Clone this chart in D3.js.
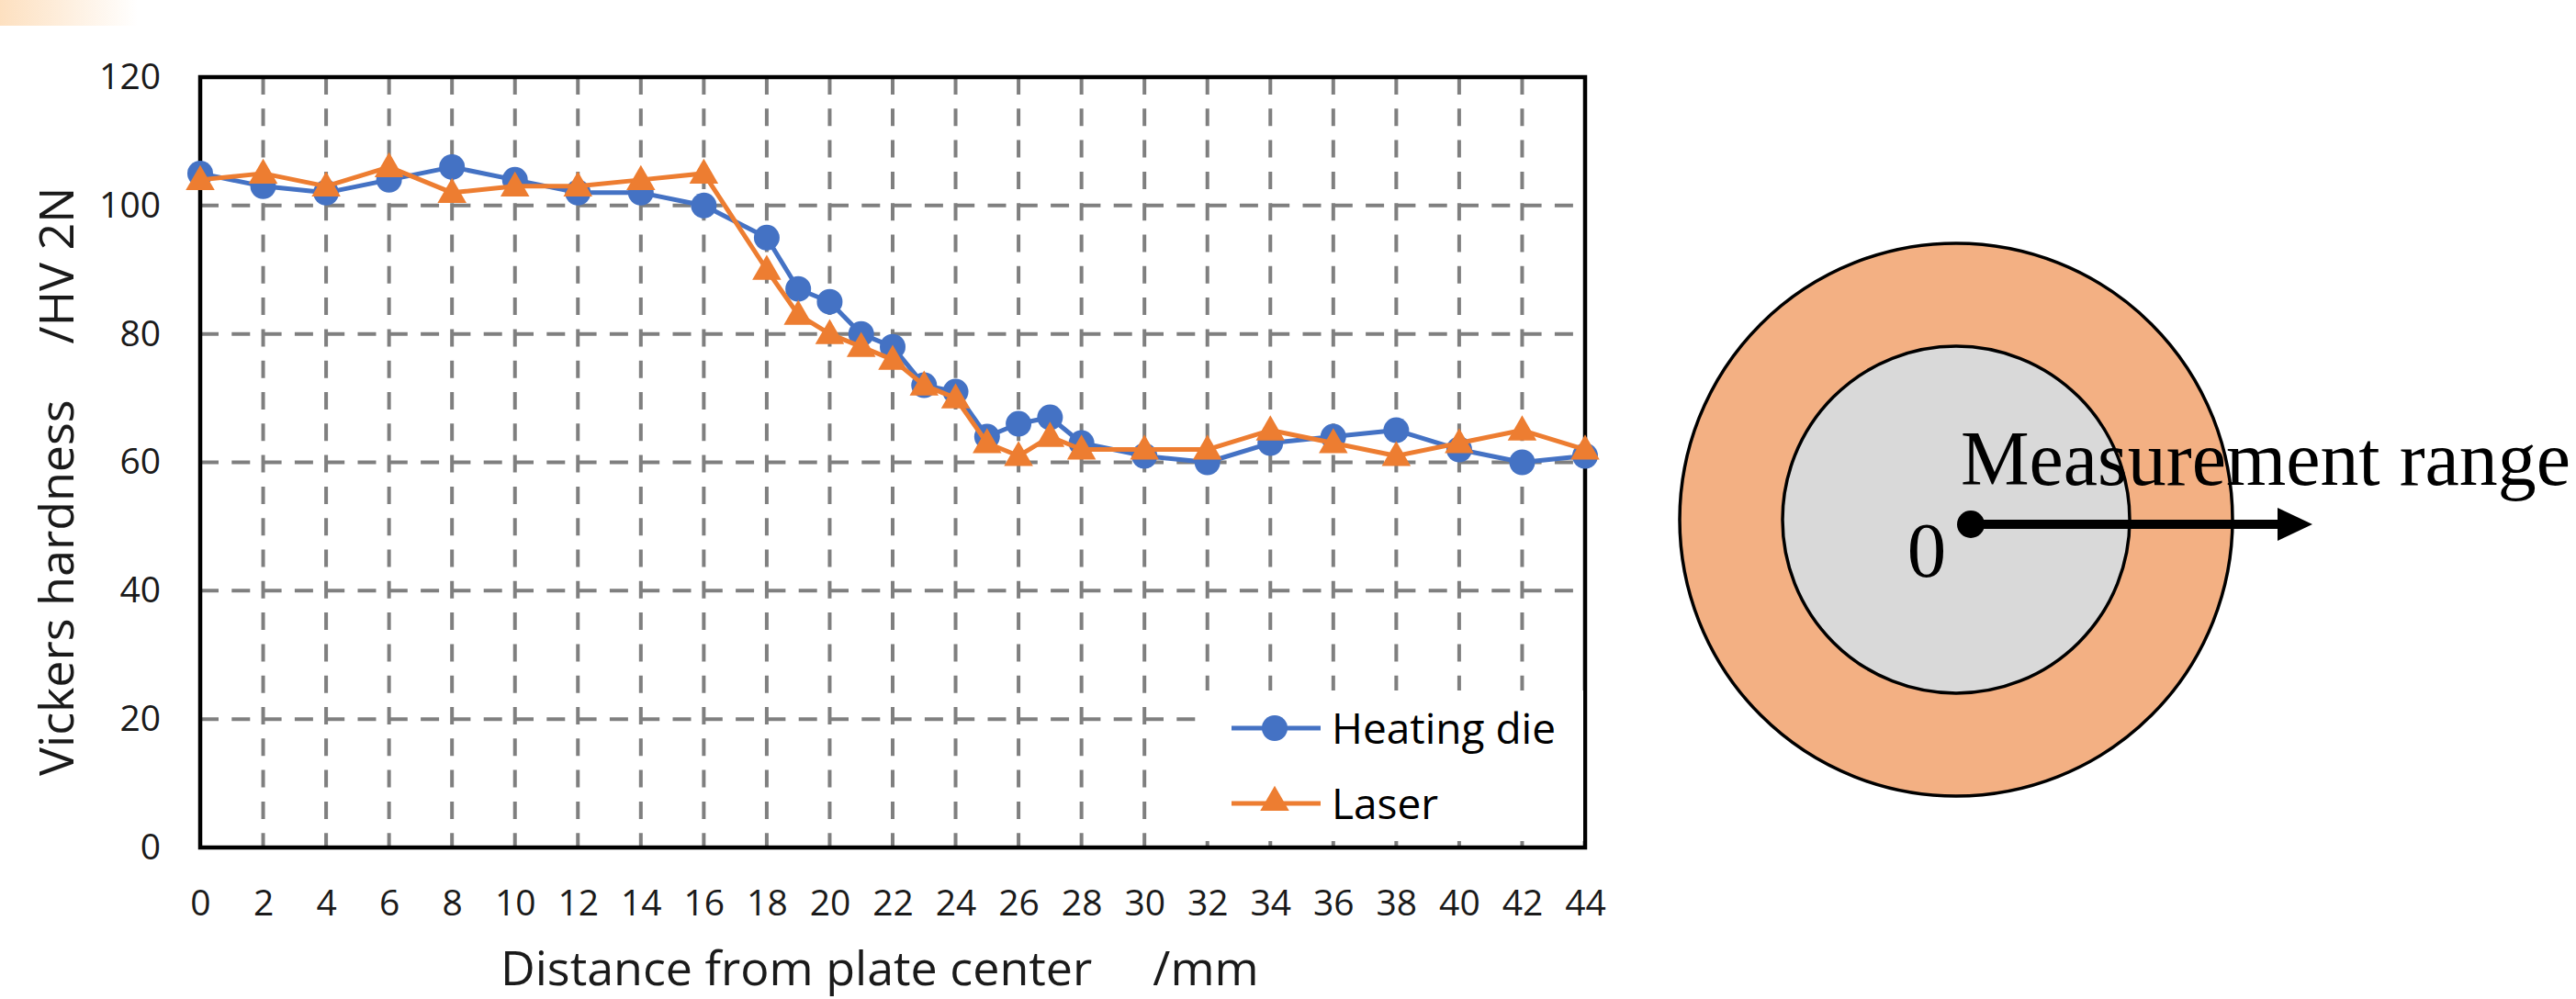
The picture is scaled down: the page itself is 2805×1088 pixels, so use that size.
<!DOCTYPE html>
<html>
<head>
<meta charset="utf-8">
<script src="https://cdn.jsdelivr.net/npm/d3@7"></script>
<style>
  html, body { margin: 0; padding: 0; background: #fff; overflow: hidden; }
  svg { display: block; }
  text { white-space: pre; }
</style>
</head>
<body>
<script>
// ---- data ----
const distances = [0,2,4,6,8,10,12,14,16,18,19,20,21,22,23,24,25,26,27,28,30,32,34,36,38,40,42,44];
const heatingDie = [105,103,102,104,106,104,102,102,100,95,87,85,80,78,72,71,64,66,67,63,61,60,63,64,65,62,60,61];
const laser      = [104,105,103,106,102,103,103,104,105,90,83,80,78,76,72,70,63,61,64,62,62,62,65,63,61,63,65,62];
const xTicks = [0,2,4,6,8,10,12,14,16,18,20,22,24,26,28,30,32,34,36,38,40,42,44];
const yTicks = [0,20,40,60,80,100,120];
const seriesNames = ["Heating die", "Laser"];
const xTitle = ["Distance from plate center", "/mm"];
const yTitle = ["Vickers hardness", "/HV 2N"];
const diagramLabel = "Measurement range";
const originLabel = "0";

// ---- layout ----
const W = 2805, H = 1088;
const svg = d3.select("body").append("svg").attr("width", W).attr("height", H);
svg.append("rect").attr("width", W).attr("height", H).attr("fill", "#fff");

// decorative corner gradient
const defs = svg.append("defs");
const grad = defs.append("linearGradient").attr("id", "cornerGrad").attr("x1", 0).attr("x2", 1).attr("y1", 0).attr("y2", 0);
grad.append("stop").attr("offset", "0%").attr("stop-color", "#fde0c0");
grad.append("stop").attr("offset", "100%").attr("stop-color", "#ffffff");
svg.append("rect").attr("x", 0).attr("y", 0).attr("width", 150).attr("height", 28).attr("fill", "url(#cornerGrad)");

const L = 218, R = 1726, T = 84, B = 923;
const x = d3.scaleLinear().domain([0, 44]).range([L, R]);
const y = d3.scaleLinear().domain([0, 120]).range([B, T]);

const font = "'Open Sans', sans-serif";
const gridColor = "#7f7f7f";

// gridlines
const g = svg.append("g");
g.selectAll("line.hg").data(yTicks.filter(d => d > 0 && d < 120)).join("line")
  .attr("x1", L).attr("x2", R).attr("y1", d => y(d)).attr("y2", d => y(d))
  .attr("stroke", gridColor).attr("stroke-width", 4).attr("stroke-dasharray", "20,14.3");
g.selectAll("line.vg").data(xTicks.filter(d => d > 0 && d < 44)).join("line")
  .attr("x1", d => x(d)).attr("x2", d => x(d)).attr("y1", T).attr("y2", B)
  .attr("stroke", gridColor).attr("stroke-width", 4).attr("stroke-dasharray", "19,15.3");

// axes tick labels via d3 axes
const xAxis = svg.append("g").attr("transform", `translate(0,${B})`)
  .call(d3.axisBottom(x).tickValues(xTicks).tickSize(0).tickPadding(46).tickFormat(d3.format("d")));
xAxis.select(".domain").remove();
xAxis.selectAll("text").attr("font-family", font).attr("font-size", 39).attr("fill", "#1a1a1a").attr("dy", "0.35em").attr("y", 60);

const yAxis = svg.append("g").attr("transform", `translate(${L},0)`)
  .call(d3.axisLeft(y).tickValues(yTicks).tickSize(0).tickPadding(43).tickFormat(d3.format("d")));
yAxis.select(".domain").remove();
yAxis.selectAll("text").attr("font-family", font).attr("font-size", 39).attr("fill", "#1a1a1a");

// plot border
svg.append("rect").attr("x", L).attr("y", T).attr("width", R - L).attr("height", B - T)
  .attr("fill", "none").attr("stroke", "#000").attr("stroke-width", 4.5);

// series
const colors = ["#4472C4", "#ED7D31"];
const line = d3.line().x(d => x(d[0])).y(d => y(d[1]));
const hdPts = distances.map((d, i) => [d, heatingDie[i]]);
const lsPts = distances.map((d, i) => [d, laser[i]]);

const tri = d3.symbol().type(d3.symbolTriangle).size(430);

function drawSeries(pts, color, marker) {
  svg.append("path").datum(pts).attr("d", line).attr("fill", "none")
    .attr("stroke", color).attr("stroke-width", 5).attr("stroke-linejoin", "round");
  if (marker === "circle") {
    svg.append("g").selectAll("circle").data(pts).join("circle")
      .attr("cx", d => x(d[0])).attr("cy", d => y(d[1])).attr("r", 14).attr("fill", color);
  } else {
    svg.append("g").selectAll("path").data(pts).join("path")
      .attr("d", tri).attr("transform", d => `translate(${x(d[0])},${y(d[1]) + 2})`).attr("fill", color);
  }
}
drawSeries(hdPts, colors[0], "circle");
drawSeries(lsPts, colors[1], "triangle");

// legend
svg.append("rect").attr("x", 1306).attr("y", 752).attr("width", 1724 - 1306).attr("height", 164).attr("fill", "#fff");
const legendRows = [{ name: seriesNames[0], color: colors[0], m: "circle", yy: 793 },
                    { name: seriesNames[1], color: colors[1], m: "triangle", yy: 875 }];
legendRows.forEach(r => {
  svg.append("line").attr("x1", 1341).attr("x2", 1438).attr("y1", r.yy).attr("y2", r.yy)
    .attr("stroke", r.color).attr("stroke-width", 5);
  if (r.m === "circle") svg.append("circle").attr("cx", 1388).attr("cy", r.yy).attr("r", 14).attr("fill", r.color);
  else svg.append("path").attr("d", tri).attr("transform", `translate(1388,${r.yy - 1})`).attr("fill", r.color);
  svg.append("text").attr("x", 1450).attr("y", r.yy).attr("dy", "0.36em")
    .attr("font-family", font).attr("font-size", 46).attr("fill", "#000").text(r.name);
});

// axis titles
const xt = svg.append("text").attr("x", 545).attr("y", 1073).attr("font-family", font).attr("font-size", 52).attr("fill", "#1a1a1a");
xt.append("tspan").text(xTitle[0]);
xt.append("tspan").attr("dx", 66).text(xTitle[1]);

const yt = svg.append("text").attr("transform", "translate(80,845) rotate(-90)")
  .attr("font-family", font).attr("font-size", 52).attr("fill", "#1a1a1a");
yt.append("tspan").text(yTitle[0]);
yt.append("tspan").attr("dx", 61).text(yTitle[1]);

// right diagram
const cx = 2130, cy = 566;
svg.append("circle").attr("cx", cx).attr("cy", cy).attr("r", 301).attr("fill", "#F3B083").attr("stroke", "#000").attr("stroke-width", 3.5);
svg.append("circle").attr("cx", cx).attr("cy", cy).attr("r", 189).attr("fill", "#D9D9D9").attr("stroke", "#000").attr("stroke-width", 3.5);
svg.append("text").attr("x", 2135).attr("y", 528).attr("font-family", "'Liberation Serif', 'Times New Roman', serif")
  .attr("font-size", 84).attr("fill", "#000").attr("textLength", 664).attr("lengthAdjust", "spacingAndGlyphs").text(diagramLabel);
svg.append("text").attr("x", 2098).attr("y", 628).attr("text-anchor", "middle").attr("font-family", "'Liberation Serif', 'Times New Roman', serif")
  .attr("font-size", 85).attr("fill", "#000").text(originLabel);
svg.append("line").attr("x1", 2146).attr("x2", 2486).attr("y1", 571).attr("y2", 571).attr("stroke", "#000").attr("stroke-width", 10);
svg.append("path").attr("d", "M2480,553 L2518,571 L2480,589 Z").attr("fill", "#000");
svg.append("circle").attr("cx", 2146).attr("cy", 571).attr("r", 15).attr("fill", "#000");
</script>
</body>
</html>
